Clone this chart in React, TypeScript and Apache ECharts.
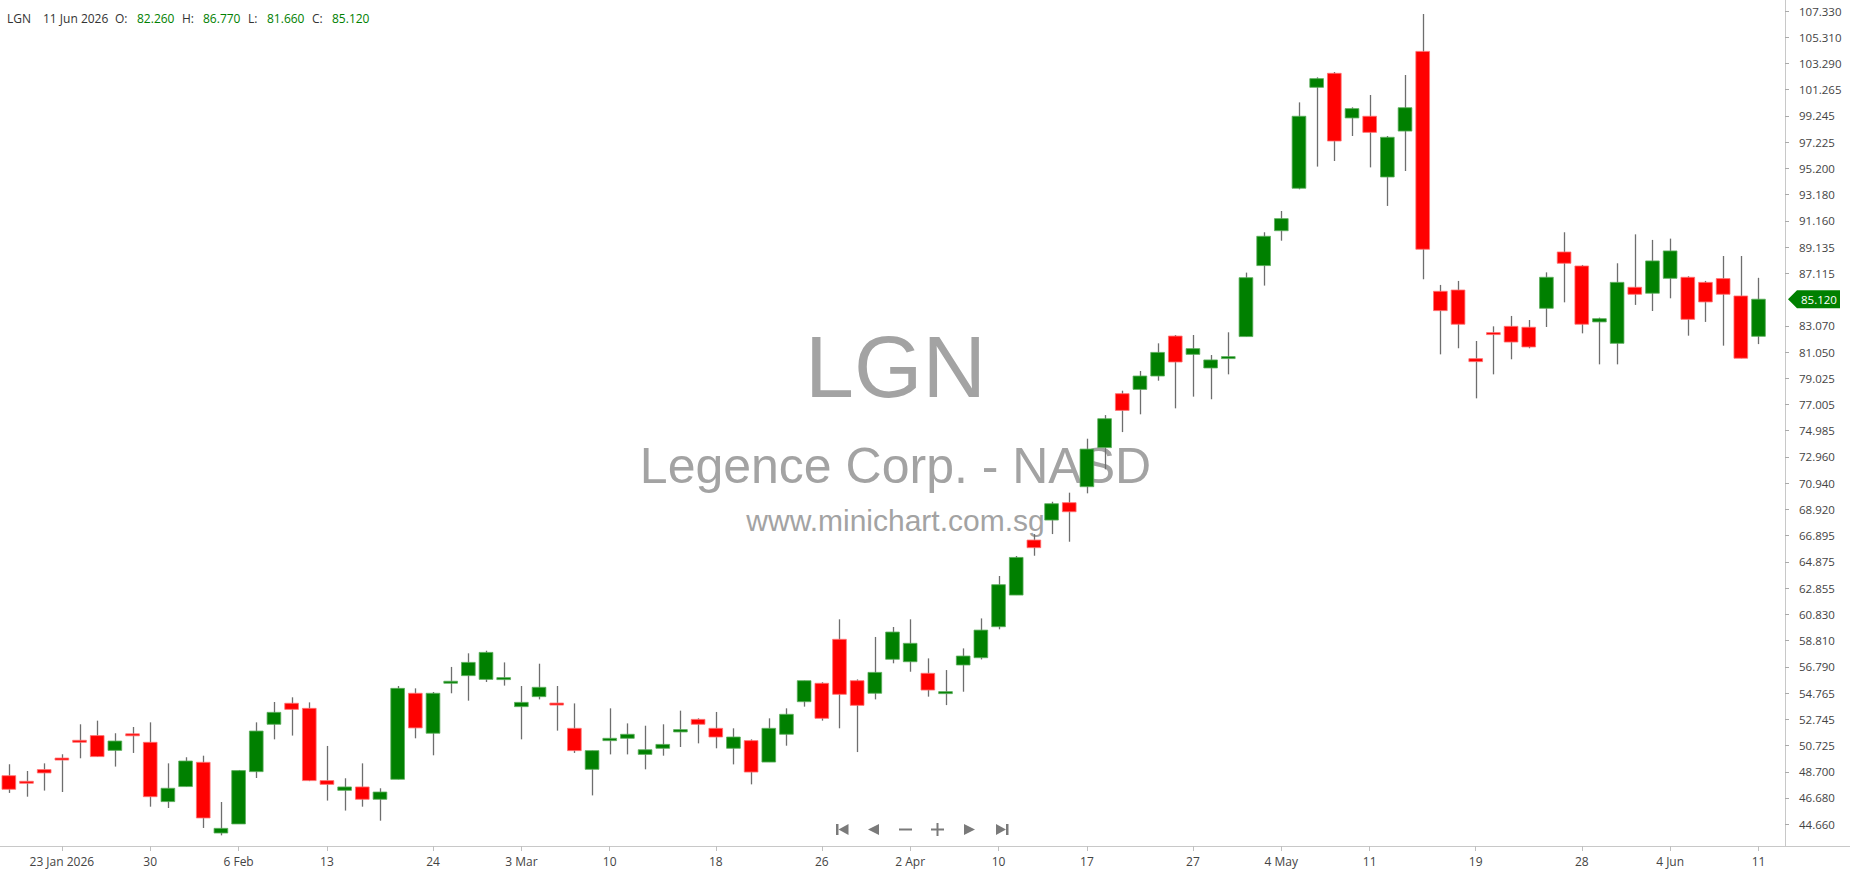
import React, { useEffect, useRef } from 'react';
import * as echarts from 'echarts';

const symbol = 'LGN';
const companyName = 'Legence Corp. - NASD';
const siteUrl = 'www.minichart.com.sg';

const dates = [
  '2026-01-20', '2026-01-21', '2026-01-22', '2026-01-23', '2026-01-26', '2026-01-27', '2026-01-28', '2026-01-29', '2026-01-30',
  '2026-02-02', '2026-02-03', '2026-02-04', '2026-02-05', '2026-02-06',
  '2026-02-09', '2026-02-10', '2026-02-11', '2026-02-12', '2026-02-13',
  '2026-02-17', '2026-02-18', '2026-02-19', '2026-02-20',
  '2026-02-23', '2026-02-24', '2026-02-25', '2026-02-26', '2026-02-27',
  '2026-03-02', '2026-03-03', '2026-03-04', '2026-03-05', '2026-03-06',
  '2026-03-09', '2026-03-10', '2026-03-11', '2026-03-12', '2026-03-13',
  '2026-03-16', '2026-03-17', '2026-03-18', '2026-03-19', '2026-03-20',
  '2026-03-23', '2026-03-24', '2026-03-25', '2026-03-26', '2026-03-27',
  '2026-03-30', '2026-03-31', '2026-04-01', '2026-04-02',
  '2026-04-06', '2026-04-07', '2026-04-08', '2026-04-09', '2026-04-10',
  '2026-04-13', '2026-04-14', '2026-04-15', '2026-04-16', '2026-04-17',
  '2026-04-20', '2026-04-21', '2026-04-22', '2026-04-23', '2026-04-24',
  '2026-04-27', '2026-04-28', '2026-04-29', '2026-04-30', '2026-05-01',
  '2026-05-04', '2026-05-05', '2026-05-06', '2026-05-07', '2026-05-08',
  '2026-05-11', '2026-05-12', '2026-05-13', '2026-05-14', '2026-05-15',
  '2026-05-18', '2026-05-19', '2026-05-20', '2026-05-21', '2026-05-22',
  '2026-05-26', '2026-05-27', '2026-05-28', '2026-05-29',
  '2026-06-01', '2026-06-02', '2026-06-03', '2026-06-04', '2026-06-05',
  '2026-06-08', '2026-06-09', '2026-06-10', '2026-06-11',
];

const opens = [
  48.40, 47.92, 48.87, 49.71, 51.08, 51.49, 50.35, 51.58, 50.97, 46.40,
  47.56, 49.43, 43.98, 44.68, 48.71, 52.36, 53.98, 53.59, 48.02, 47.27,
  47.53, 46.58, 48.12, 54.75, 51.67, 55.57, 56.11, 55.82, 55.85, 53.72,
  54.49, 53.95, 52.05, 48.89, 51.10, 51.28, 50.04, 50.51, 51.77, 52.74,
  52.05, 50.51, 51.10, 49.45, 51.59, 54.10, 55.52, 58.91, 55.72, 54.75,
  57.37, 57.18, 56.29, 54.77, 56.93, 57.49, 59.88, 62.32, 66.56, 68.10,
  69.44, 70.67, 73.68, 77.84, 78.17, 79.20, 82.28, 80.87, 79.82, 80.59,
  82.24, 87.71, 90.40, 93.67, 101.45, 102.53, 99.09, 99.22, 94.54, 98.08,
  104.22, 85.73, 85.83, 80.54, 82.50, 83.03, 82.96, 84.42, 88.76, 87.68,
  83.37, 81.72, 86.04, 85.58, 86.73, 86.81, 86.42, 86.71, 85.37, 82.26,
];
const highs = [
  49.28, 48.76, 49.35, 50.05, 52.36, 52.64, 51.67, 52.15, 52.51, 49.35,
  49.82, 49.94, 46.37, 48.84, 52.51, 54.08, 54.44, 54.05, 50.69, 48.20,
  49.35, 47.43, 55.31, 55.13, 54.85, 56.78, 57.83, 58.03, 57.13, 55.31,
  57.03, 55.31, 53.97, 50.33, 53.59, 52.43, 52.25, 52.36, 53.41, 52.82,
  53.31, 52.05, 51.20, 52.82, 53.59, 55.72, 55.60, 60.45, 55.82, 59.09,
  59.86, 60.45, 57.44, 56.54, 58.21, 60.52, 63.79, 65.33, 67.02, 69.51,
  70.21, 74.37, 76.19, 78.07, 79.59, 81.72, 82.36, 82.36, 80.82, 82.57,
  87.17, 90.28, 91.92, 100.29, 102.22, 102.63, 99.91, 100.86, 97.70, 102.40,
  107.10, 86.22, 86.53, 81.90, 83.03, 83.83, 83.52, 87.19, 90.28, 87.76,
  83.70, 87.89, 90.12, 89.69, 89.79, 86.89, 86.53, 88.45, 88.45, 86.77,
];
const lows = [
  47.07, 46.78, 47.25, 47.14, 49.74, 49.85, 49.10, 50.15, 46.01, 45.91,
  47.56, 44.37, 43.80, 44.68, 48.22, 51.20, 51.49, 47.98, 46.48, 45.71,
  46.01, 44.93, 48.12, 51.28, 49.97, 54.75, 54.18, 55.62, 55.34, 51.20,
  54.28, 51.87, 50.15, 46.88, 50.04, 50.04, 48.89, 49.94, 50.61, 50.89,
  50.51, 49.27, 47.73, 49.45, 50.71, 53.72, 52.64, 52.05, 50.22, 54.28,
  57.06, 56.41, 54.49, 53.84, 54.87, 57.36, 59.68, 62.32, 65.35, 67.02,
  66.43, 70.16, 72.01, 74.88, 76.25, 78.84, 76.71, 77.61, 77.41, 79.33,
  82.24, 86.17, 89.63, 93.59, 95.34, 95.77, 97.70, 95.28, 92.31, 95.00,
  86.65, 80.87, 81.34, 77.48, 79.33, 80.49, 81.34, 82.98, 84.88, 82.49,
  80.10, 80.10, 84.68, 84.21, 85.19, 82.31, 83.37, 81.54, 80.57, 81.66,
];
const closes = [
  47.35, 47.86, 48.61, 49.65, 51.02, 49.87, 51.07, 51.52, 46.78, 47.43,
  49.53, 45.14, 44.34, 48.79, 51.84, 53.28, 53.51, 48.02, 47.73, 47.53,
  46.58, 47.14, 55.13, 52.08, 54.75, 55.63, 57.13, 57.90, 55.91, 54.05,
  55.21, 53.89, 50.33, 50.33, 51.28, 51.59, 50.40, 50.81, 51.95, 52.36,
  51.38, 51.38, 48.68, 52.05, 53.13, 55.72, 52.82, 54.67, 53.82, 56.36,
  59.47, 58.60, 55.00, 54.83, 57.62, 59.62, 63.12, 65.22, 65.97, 69.36,
  68.74, 73.57, 75.91, 76.55, 79.20, 81.02, 80.28, 81.31, 80.44, 80.65,
  86.78, 89.97, 91.33, 99.22, 102.12, 97.31, 99.81, 97.98, 97.60, 99.88,
  88.97, 84.24, 83.19, 80.31, 82.44, 81.82, 81.44, 86.81, 87.89, 83.19,
  83.62, 86.42, 85.50, 88.07, 88.84, 83.57, 84.91, 85.50, 80.57, 85.12,
];

const xTickDates = [
  '2026-01-23', '2026-01-30', '2026-02-06', '2026-02-13', '2026-02-24', '2026-03-03', '2026-03-10',
  '2026-03-18', '2026-03-26', '2026-04-02', '2026-04-10', '2026-04-17', '2026-04-27', '2026-05-04',
  '2026-05-11', '2026-05-19', '2026-05-28', '2026-06-04', '2026-06-11',
];
const xTickLabels = [
  '23 Jan 2026', '30', '6 Feb', '13', '24', '3 Mar', '10',
  '18', '26', '2 Apr', '10', '17', '27', '4 May',
  '11', '19', '28', '4 Jun', '11',
];

const yTickValues = [
  44.66, 46.68, 48.7, 50.725, 52.745, 54.765, 56.79, 58.81, 60.83, 62.855, 64.875,
  66.895, 68.92, 70.94, 72.96, 74.985, 77.005, 79.025, 81.05, 83.07, 87.115, 89.135,
  91.16, 93.18, 95.2, 97.225, 99.245, 101.265, 103.29, 105.31, 107.33,
];
const yMin = 42.98;
const yMax = 108.18;

const MONTHS = ['Jan', 'Feb', 'Mar', 'Apr', 'May', 'Jun', 'Jul', 'Aug', 'Sep', 'Oct', 'Nov', 'Dec'];

export default function App() {
  const ref = useRef<HTMLDivElement>(null);

  useEffect(() => {
    document.body.style.margin = '0';
    if (!ref.current) return;
    const chart = echarts.init(ref.current, null, { renderer: 'svg' });

    const categories = [...dates, ''];
    const candleData = dates.map((d, i) => [i, opens[i], closes[i], lows[i], highs[i]]);
    const tickSet = new Set(xTickDates);
    const labelMap: Record<string, string> = {};
    xTickDates.forEach((d, i) => (labelMap[d] = xTickLabels[i]));
    const showTick = (_i: number, v: string) => tickSet.has(v);

    const FONT = '"Open Sans", "Noto Sans", sans-serif';

    chart.setOption({
      animation: false,
      backgroundColor: '#ffffff',
      textStyle: { fontFamily: FONT },
      grid: { left: 0, top: 0, right: 65, bottom: 28, containLabel: false, outerBoundsMode: 'none' },
      xAxis: {
        type: 'category',
        data: categories,
        boundaryGap: true,
        axisLine: { show: true, lineStyle: { color: '#c8c8c8', width: 1 } },
        axisTick: { show: true, alignWithLabel: true, interval: showTick, length: 5, lineStyle: { color: '#c0c0c0' } },
        axisLabel: {
          interval: showTick,
          formatter: (v: string) => labelMap[v] ?? '',
          color: '#444',
          fontSize: 12,
          margin: 9,
          fontFamily: FONT,
        },
        splitLine: { show: false },
      },
      yAxis: {
        type: 'value',
        position: 'right',
        min: yMin,
        max: yMax,
        axisLine: { show: true, lineStyle: { color: '#c8c8c8', width: 1 } },
        axisTick: { show: true, customValues: yTickValues, length: 4, lineStyle: { color: '#aaa' } },
        axisLabel: {
          customValues: yTickValues,
          formatter: (v: number) => v.toFixed(3),
          color: '#444',
          fontSize: 11.5,
          margin: 14,
          fontFamily: FONT,
        },
        splitLine: { show: false },
      },
      series: [
        {
          type: 'custom',
          name: symbol,
          clip: true,
          encode: { x: 0, y: [1, 2, 3, 4] },
          data: candleData,
          renderItem: (_params: any, api: any) => {
            const i = api.value(0);
            const o = api.value(1);
            const c = api.value(2);
            const l = api.value(3);
            const h = api.value(4);
            const pO = api.coord([i, o]);
            const yC = api.coord([i, c])[1];
            const yL = api.coord([i, l])[1];
            const yH = api.coord([i, h])[1];
            const cx = pO[0];
            const bw = api.size([1, 0])[0] * 0.775;
            const up = c >= o;
            const fill = up ? '#008000' : '#ff0000';
            const edge = up ? '#5cad5c' : '#ff7070';
            let top = Math.min(pO[1], yC);
            let bot = Math.max(pO[1], yC);
            if (bot - top < 2) {
              const m = (top + bot) / 2;
              top = m - 1;
              bot = m + 1;
            }
            const wx = Math.round(cx) + 0.5;
            return {
              type: 'group',
              children: [
                { type: 'line', shape: { x1: wx, y1: yH, x2: wx, y2: yL }, style: { stroke: '#6e6e6e', lineWidth: 1.3 } },
                {
                  type: 'rect',
                  shape: { x: cx - bw / 2, y: top, width: bw, height: bot - top },
                  style: { fill, stroke: edge, lineWidth: 0.8 },
                },
              ],
            };
          },
        },
      ],
    });

    const last = dates.length - 1;
    const lastClose = closes[last];
    const tagY = chart.convertToPixel({ yAxisIndex: 0 }, lastClose) as number;
    const dParts = dates[last].split('-');
    const dateText = `${parseInt(dParts[2], 10)} ${MONTHS[parseInt(dParts[1], 10) - 1]} ${dParts[0]}`;
    const gridCx = (1850 - 65) / 2 + 3;

    const hdr = (text: string, x: number, fill: string) => ({
      type: 'text',
      x,
      y: 18,
      style: { text, fill, font: `12px ${FONT}`, verticalAlign: 'middle', align: 'left' },
    });
    const NAV = '#7a7a7a';

    chart.setOption({
      graphic: [
        {
          type: 'text', x: gridCx, y: 366, z: -10,
          style: { text: symbol, fill: '#a3a3a3', font: '88px "Liberation Sans", Arial, sans-serif', align: 'center', verticalAlign: 'middle' },
        },
        {
          type: 'text', x: gridCx, y: 466, z: -10,
          style: { text: companyName, fill: '#a3a3a3', font: '50px "Liberation Sans", Arial, sans-serif', align: 'center', verticalAlign: 'middle' },
        },
        {
          type: 'text', x: gridCx, y: 520, z: -10,
          style: { text: siteUrl, fill: '#a3a3a3', font: '30px "Liberation Sans", Arial, sans-serif', align: 'center', verticalAlign: 'middle' },
        },
        hdr(symbol, 7, '#333'),
        hdr(dateText, 43, '#333'),
        hdr('O:', 115, '#333'),
        hdr(opens[last].toFixed(3), 137, '#008000'),
        hdr('H:', 182, '#333'),
        hdr(highs[last].toFixed(3), 203, '#008000'),
        hdr('L:', 248, '#333'),
        hdr(lows[last].toFixed(3), 267, '#008000'),
        hdr('C:', 312, '#333'),
        hdr(lastClose.toFixed(3), 332, '#008000'),
        {
          type: 'line',
          shape: { x1: 1785, y1: 846.5, x2: 1850, y2: 846.5 },
          style: { stroke: '#c8c8c8', lineWidth: 1 },
        },
        {
          type: 'polygon',
          shape: { points: [[1788, tagY], [1797, tagY - 9], [1840, tagY - 9], [1840, tagY + 9], [1797, tagY + 9]] },
          style: { fill: '#008000' },
          z: 100,
        },
        {
          type: 'text', x: 1819, y: tagY, z: 101,
          style: { text: lastClose.toFixed(3), fill: '#ffffff', font: `11.5px ${FONT}`, align: 'center', verticalAlign: 'middle' },
        },
        // navigation buttons
        { type: 'rect', shape: { x: 836, y: 824, width: 2.5, height: 11 }, style: { fill: NAV } },
        { type: 'polygon', shape: { points: [[848.5, 824], [848.5, 835], [838.5, 829.5]] }, style: { fill: NAV } },
        { type: 'polygon', shape: { points: [[879, 824], [879, 835], [868, 829.5]] }, style: { fill: NAV } },
        { type: 'rect', shape: { x: 899, y: 828.5, width: 13, height: 2 }, style: { fill: NAV } },
        { type: 'rect', shape: { x: 931, y: 828.5, width: 13, height: 2 }, style: { fill: NAV } },
        { type: 'rect', shape: { x: 936.5, y: 823, width: 2, height: 13 }, style: { fill: NAV } },
        { type: 'polygon', shape: { points: [[964, 824], [964, 835], [975, 829.5]] }, style: { fill: NAV } },
        { type: 'polygon', shape: { points: [[996, 824], [996, 835], [1006, 829.5]] }, style: { fill: NAV } },
        { type: 'rect', shape: { x: 1006, y: 824, width: 2.5, height: 11 }, style: { fill: NAV } },
      ],
    });

    return () => chart.dispose();
  }, []);

  return (
    <div
      ref={ref}
      style={{ position: 'fixed', left: 0, top: 0, width: 1850, height: 874, background: '#fff' }}
    />
  );
}
